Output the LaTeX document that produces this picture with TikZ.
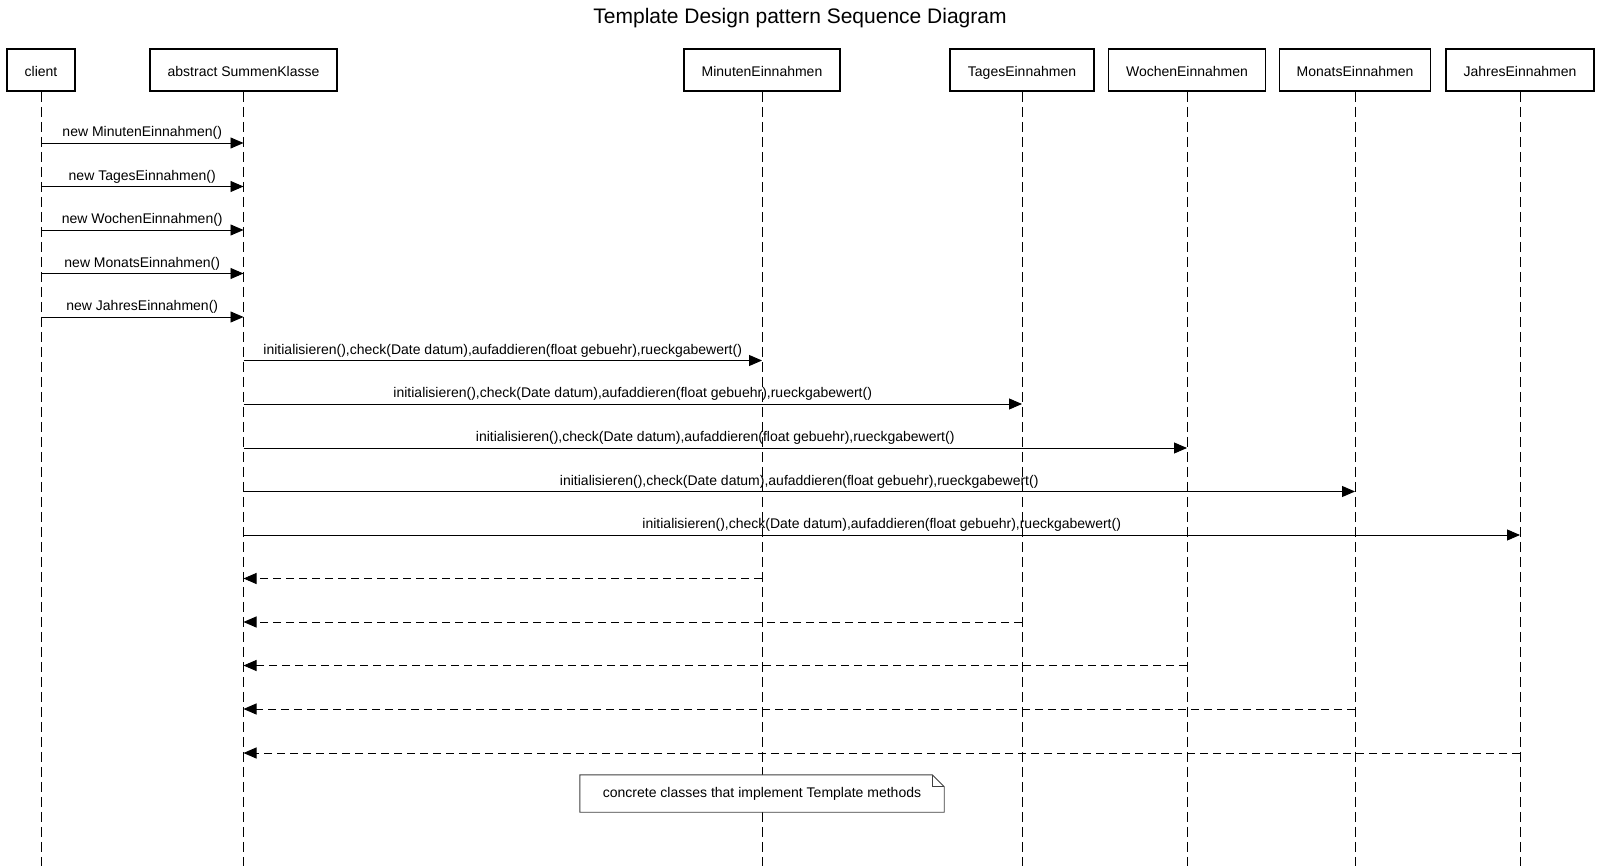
\documentclass[tikz,border=0pt]{standalone}
\usepackage{fontspec}
\setmainfont{Liberation Sans}
\usetikzlibrary{arrows.meta}

\tikzset{
	obj/.style={draw, line width=1.6pt, minimum height=42pt, inner sep=0pt, text height=14pt, text depth=0pt, fill=white, font=\fontsize{14}{16}\selectfont},
	life/.style={line width=0.9pt, dash pattern=on 10pt off 5pt},
	msg/.style={line width=0.9pt, -{Triangle[length=13pt,width=11pt]}},
	ret/.style={msg, dash pattern=on 8pt off 5pt},
	lbl/.style={midway, above=2pt, inner sep=1pt, font=\fontsize{14}{16}\selectfont},
}

\begin{document}
\begin{tikzpicture}[x=1pt, y=-1pt]
	\useasboundingbox (0, 0) rectangle (1600, 866);
	\node[font=\fontsize{21}{25}\selectfont] (title) at (800, 18) {Template Design pattern Sequence Diagram};
	% objects
	\node[obj, minimum width=68pt] (client) at (41, 70) {client};
	\node[obj, minimum width=187pt] (summe) at (243.5, 70) {abstract SummenKlasse};
	\node[obj, minimum width=156pt] (minuten) at (762, 70) {MinutenEinnahmen};
	\node[obj, minimum width=144pt] (tages) at (1022, 70) {TagesEinnahmen};
	\node[obj, minimum width=157pt] (wochen) at (1187, 70) {WochenEinnahmen};
	\node[obj, minimum width=151pt] (monats) at (1355, 70) {MonatsEinnahmen};
	\node[obj, minimum width=148pt] (jahres) at (1520, 70) {JahresEinnahmen};
	% lifelines
	\draw[life] (client.south) -- (client.south |- 0, 866);
	\draw[life] (summe.south) -- (summe.south |- 0, 866);
	\draw[life] (minuten.south) -- (minuten.south |- 0, 866);
	\draw[life] (tages.south) -- (tages.south |- 0, 866);
	\draw[life] (wochen.south) -- (wochen.south |- 0, 866);
	\draw[life] (monats.south) -- (monats.south |- 0, 866);
	\draw[life] (jahres.south) -- (jahres.south |- 0, 866);
	% constructors
	\draw[msg] (client.south |- 0, 143) -- (summe.south |- 0, 143) node[lbl] {new MinutenEinnahmen()};
	\draw[msg] (client.south |- 0, 186.5) -- (summe.south |- 0, 186.5) node[lbl] {new TagesEinnahmen()};
	\draw[msg] (client.south |- 0, 230) -- (summe.south |- 0, 230) node[lbl] {new WochenEinnahmen()};
	\draw[msg] (client.south |- 0, 273.5) -- (summe.south |- 0, 273.5) node[lbl] {new MonatsEinnahmen()};
	\draw[msg] (client.south |- 0, 317) -- (summe.south |- 0, 317) node[lbl] {new JahresEinnahmen()};
	% template calls
	\draw[msg] (summe.south |- 0, 360.5) -- (minuten.south |- 0, 360.5) node[lbl] {initialisieren(),check(Date datum),aufaddieren(float gebuehr),rueckgabewert()};
	\draw[msg] (summe.south |- 0, 404) -- (tages.south |- 0, 404) node[lbl] {initialisieren(),check(Date datum),aufaddieren(float gebuehr),rueckgabewert()};
	\draw[msg] (summe.south |- 0, 448) -- (wochen.south |- 0, 448) node[lbl] {initialisieren(),check(Date datum),aufaddieren(float gebuehr),rueckgabewert()};
	\draw[msg] (summe.south |- 0, 491.5) -- (monats.south |- 0, 491.5) node[lbl] {initialisieren(),check(Date datum),aufaddieren(float gebuehr),rueckgabewert()};
	\draw[msg] (summe.south |- 0, 535) -- (jahres.south |- 0, 535) node[lbl] {initialisieren(),check(Date datum),aufaddieren(float gebuehr),rueckgabewert()};
	% returns
	\draw[ret] (minuten.south |- 0, 578.5) -- (summe.south |- 0, 578.5);
	\draw[ret] (tages.south |- 0, 622) -- (summe.south |- 0, 622);
	\draw[ret] (wochen.south |- 0, 665.5) -- (summe.south |- 0, 665.5);
	\draw[ret] (monats.south |- 0, 709) -- (summe.south |- 0, 709);
	\draw[ret] (jahres.south |- 0, 753) -- (summe.south |- 0, 753);
	% note
	\node[minimum width=364pt, minimum height=37pt, inner sep=0pt, fill=white, font=\fontsize{14}{16}\selectfont] (note) at (762, 793.5) {concrete classes that implement Template methods};
	\draw[line width=0.9pt, black!75] (note.north west) -- ([xshift=-12pt]note.north east) -- ([yshift=-12pt]note.north east) -- (note.south east) -- (note.south west) -- cycle;
	\draw[line width=0.9pt, black!75] ([xshift=-12pt]note.north east) -- ([xshift=-12pt, yshift=-12pt]note.north east) -- ([yshift=-12pt]note.north east);
\end{tikzpicture}
\end{document}
